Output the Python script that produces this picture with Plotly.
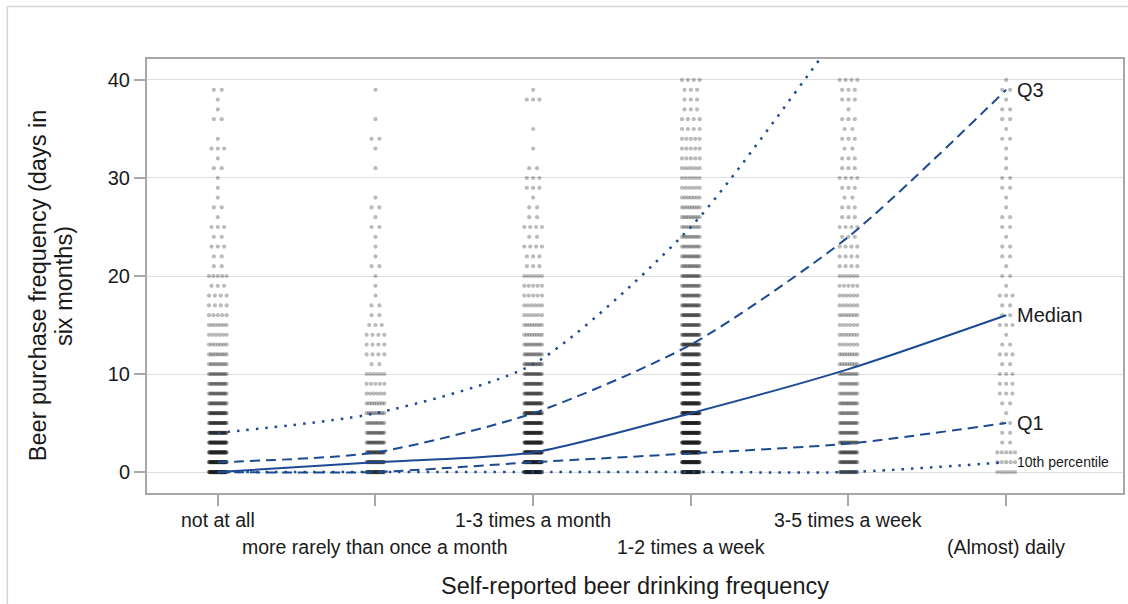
import plotly.graph_objects as go

# ---------------- data ----------------
categories = ["not at all", "more rarely than once a month", "1-3 times a month",
              "1-2 times a week", "3-5 times a week", "(Almost) daily"]
y_values = list(range(0, 41))  # purchase days 0..40

# approximate number of observations at each integer value (0..40) per category
counts_not_at_all = [60, 50, 45, 40, 35, 30, 25, 18, 16, 15, 14, 10, 9, 7, 6, 7, 5, 4, 4, 3,
                     5, 2, 2, 3, 2, 3, 1, 2, 1, 1, 1, 2, 1, 3, 1, 0, 2, 1, 1, 2, 0]
counts_rarely = [40, 30, 25, 18, 15, 12, 10, 8, 6, 5, 6, 2, 4, 4, 4, 3, 2, 2, 1, 1,
                 1, 2, 1, 1, 1, 2, 1, 2, 1, 0, 0, 1, 0, 1, 2, 0, 1, 0, 0, 1, 0]
counts_1_3_month = [60, 55, 50, 45, 40, 35, 30, 25, 22, 20, 18, 15, 12, 10, 8, 8, 6, 6, 5, 5,
                    6, 3, 3, 4, 2, 4, 2, 2, 1, 3, 3, 2, 0, 1, 0, 1, 0, 0, 3, 1, 0]
counts_1_2_week = [60, 55, 55, 55, 50, 50, 45, 40, 35, 35, 30, 30, 25, 25, 22, 20, 20, 18, 16, 14,
                   16, 12, 12, 10, 10, 9, 9, 8, 7, 6, 6, 6, 5, 5, 5, 4, 4, 3, 3, 3, 4]
counts_3_5_week = [25, 20, 20, 18, 16, 15, 12, 12, 10, 10, 10, 8, 8, 6, 7, 6, 7, 6, 6, 5,
                   6, 4, 4, 4, 3, 4, 3, 3, 2, 3, 4, 3, 3, 2, 3, 2, 3, 1, 3, 3, 4]
counts_daily = [6, 5, 5, 2, 2, 2, 1, 2, 3, 3, 3, 2, 3, 2, 1, 3, 2, 2, 3, 1,
                2, 1, 2, 2, 1, 2, 2, 1, 1, 2, 2, 1, 1, 1, 2, 1, 2, 2, 1, 2, 1]
all_counts = [counts_not_at_all, counts_rarely, counts_1_3_month,
              counts_1_2_week, counts_3_5_week, counts_daily]

# quantile curves
p10 = [0, 0, 0, 0, 0, 1]
q1 = [0, 0, 1, 1.9, 2.9, 5]
median = [0, 1, 2, 6, 10.5, 16]
q3 = [1, 2, 6, 13, 24, 39]
p90 = [4, 6, 11, 25, 46, 66]

y_ticks = [0, 10, 20, 30, 40]

# ---------------- figure ----------------
LINE = "#1c4a93"
FONT = "Liberation Sans, Arial, sans-serif"
TXT = "#1a1a1a"

fig = go.Figure()

# raw observation dots (spread horizontally around each category)
xs, ys = [], []
for ci, cnts in enumerate(all_counts):
    for yv, n in zip(y_values, cnts):
        if n <= 0:
            continue
        w = 0.0 if n == 1 else (0.025 if n == 2 else (0.04 if n == 3 else 0.056))
        for k in range(n):
            off = 0.0 if n == 1 else -w + 2 * w * k / (n - 1)
            xs.append(ci + off)
            ys.append(yv)
fig.add_trace(go.Scatter(x=xs, y=ys, mode="markers",
                         marker=dict(size=4.2, color="rgba(30,30,30,0.30)", line=dict(width=0)),
                         hoverinfo="skip", showlegend=False))

xi = list(range(len(categories)))
for vals, dash, lw in [(p10, "2.5px,7px", 2.5), (q1, "10px,6px", 2), (median, "solid", 2),
                       (q3, "10px,6px", 2), (p90, "2.5px,7px", 2.5)]:
    fig.add_trace(go.Scatter(x=xi, y=vals, mode="lines",
                             line=dict(color=LINE, width=lw, dash=dash, shape="spline", smoothing=0.7),
                             showlegend=False, hoverinfo="skip"))

annotations = []
# right-end curve labels
for vals, lab in [(q3, "Q3"), (median, "Median"), (q1, "Q1"), (p10, "10th percentile")]:
    annotations.append(dict(x=xi[-1], y=vals[-1], xref="x", yref="y", text=lab,
                            xanchor="left", yanchor="middle", xshift=9, showarrow=False,
                            font=dict(size=14 if lab == "10th percentile" else 20, color=TXT, family=FONT)))
# staggered category labels
for i, c in enumerate(categories):
    annotations.append(dict(x=i, y=-0.0622 if i % 2 == 0 else -0.1237, xref="x", yref="paper",
                            text=c, xanchor="center", yanchor="middle", showarrow=False,
                            font=dict(size=19.5, color=TXT, family=FONT)))
# axis titles
annotations.append(dict(x=0.5, y=-0.2143, xref="paper", yref="paper",
                        text="Self-reported beer drinking frequency", showarrow=False,
                        xanchor="center", yanchor="middle", font=dict(size=23.5, color=TXT, family=FONT)))
annotations.append(dict(x=-0.1115, y=0.477, xref="paper", yref="paper",
                        text="Beer purchase frequency (days in", textangle=-90, showarrow=False,
                        xanchor="center", yanchor="middle", font=dict(size=23.5, color=TXT, family=FONT)))
annotations.append(dict(x=-0.0849, y=0.477, xref="paper", yref="paper",
                        text="six months)", textangle=-90, showarrow=False,
                        xanchor="center", yanchor="middle", font=dict(size=23.5, color=TXT, family=FONT)))

shapes = [
    dict(type="line", xref="paper", yref="paper", x0=-0.1431, x1=-0.1431, y0=1.121, y1=-0.26,
         line=dict(color="#d4d4d4", width=1.5)),
    dict(type="line", xref="paper", yref="paper", x0=-0.1431, x1=1.01, y0=1.121, y1=1.121,
         line=dict(color="#d4d4d4", width=1.5)),
]

fig.update_layout(
    width=1128, height=604,
    margin=dict(l=147, r=3, t=59, b=111),
    paper_bgcolor="white", plot_bgcolor="white",
    font=dict(family=FONT, color=TXT),
    annotations=annotations, shapes=shapes,
    xaxis=dict(range=[-0.449, 5.741], tickmode="array", tickvals=xi, showticklabels=False,
               ticks="outside", ticklen=11, tickcolor="#a8a8a8", tickwidth=1.5,
               showgrid=False, zeroline=False, showline=True, linecolor="#a8a8a8",
               linewidth=2, mirror=True),
    yaxis=dict(range=[-2.14, 42.14], tickmode="array", tickvals=y_ticks,
               ticks="outside", ticklen=11, tickcolor="#a8a8a8", tickwidth=1.5,
               tickfont=dict(size=20, color=TXT, family=FONT),
               showgrid=True, gridcolor="#dedede", gridwidth=1, zeroline=False,
               showline=True, linecolor="#a8a8a8", linewidth=2, mirror=True),
)

fig.write_html("out.html", config={"displayModeBar": False},
               post_script="document.body.style.margin='0';document.body.style.overflow='hidden';")
